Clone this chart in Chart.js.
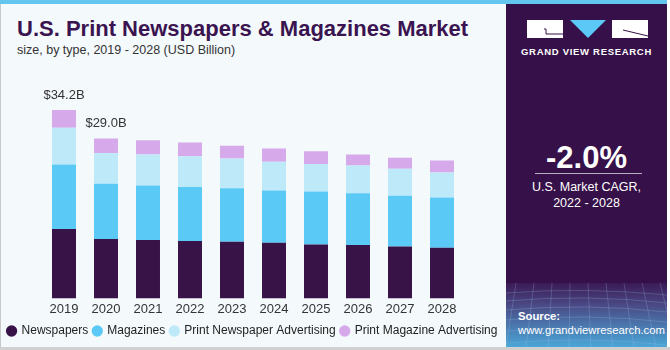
<!DOCTYPE html>
<html>
<head>
<meta charset="utf-8">
<script src="https://cdn.jsdelivr.net/npm/chart.js@4.4.0/dist/chart.umd.min.js"></script>
<style>
  html, body { margin: 0; padding: 0; }
  body { width: 670px; height: 350px; position: relative; overflow: hidden; background: #fff; font-family: "Liberation Sans", Arial, sans-serif; }
  #left { position: absolute; left: 0; top: 4px; width: 506px; height: 344px; background: #f4f9fc; border-left: 1px solid #c9c9c9; box-sizing: border-box; }
  #topbar { position: absolute; left: 0; top: 0; width: 667px; height: 4px; background: #63c6ee; z-index: 3; }
  #bottomline { position: absolute; left: 0; top: 347px; width: 670px; height: 3px; background: #d0d0d0; z-index: 3; }
  #title { position: absolute; left: 17px; top: 16px; font-size: 22px; font-weight: bold; color: #3a1450; white-space: nowrap; }
  #subtitle { position: absolute; left: 17px; top: 43px; font-size: 12.5px; color: #333; white-space: nowrap; }
  #chartBox { position: absolute; left: -8px; top: 62px; width: 521px; height: 285px; z-index: 1; }
  #right { position: absolute; left: 506px; top: 4px; width: 161px; height: 343px; background: #361048; overflow: hidden; z-index: 2; }
  #gvr { position: absolute; left: 0; top: 42px; width: 161px; text-align: center; color: #fff; font-size: 9.5px; font-weight: bold; letter-spacing: 0.7px; }
  #grid { position: absolute; left: 0; top: 279px; width: 161px; height: 64px; }
  .rtext { position: absolute; left: 0; width: 161px; text-align: center; color: #fff; }
  #cagr { top: 136px; font-size: 31px; font-weight: bold; }
  #rule { position: absolute; left: 29px; top: 169px; width: 107px; height: 1px; background: #b9b0c2; }
  #cagrTxt { top: 175px; font-size: 12.5px; line-height: 16px; }
  #src { position: absolute; left: 12px; top: 305px; color: #fff; font-size: 11.3px; line-height: 14px; }
</style>
</head>
<body>
<div id="topbar"></div>
<div id="left"></div>
<div id="title">U.S. Print Newspapers &amp; Magazines Market</div>
<div id="subtitle">size, by type, 2019 - 2028 (USD Billion)</div>
<div id="chartBox"><canvas id="chart"></canvas></div>

<div id="right">
  <svg width="161" height="40" style="position:absolute;left:0;top:0">
    <rect x="21" y="16" width="36" height="18" style="fill:#ffffff"/>
    <rect x="106" y="16" width="36" height="18" style="fill:#ffffff"/>
    <polyline points="38,25 40,25 40,30 57,30" fill="none" stroke="#361048" stroke-width="1"/>
    <polygon points="64,16 100,16 82,34" fill="#5bc8f5"/>
    <line x1="117" y1="26" x2="142" y2="32" stroke="#361048" stroke-width="1"/>
  </svg>
  <div id="gvr">GRAND VIEW RESEARCH</div>
  <div class="rtext" id="cagr">-2.0%</div>
  <div id="rule"></div>
  <div class="rtext" id="cagrTxt">U.S. Market CAGR,<br>2022 - 2028</div>
  <svg id="grid" width="161" height="64">
    <defs>
      <linearGradient id="g" x1="0" y1="0" x2="0" y2="1">
        <stop offset="0" stop-color="#3b1a55"/>
        <stop offset="0.35" stop-color="#4a4a86"/>
        <stop offset="1" stop-color="#4aa7d8"/>
      </linearGradient>
    </defs>
    <rect width="161" height="64" fill="url(#g)"/>
    <g stroke="#9fc3e6" stroke-opacity="0.35" stroke-width="0.7" fill="none">
      <path d="M0 10 Q80 4 161 12"/><path d="M0 18 Q80 11 161 20"/><path d="M0 27 Q80 20 161 29"/>
      <path d="M0 37 Q80 30 161 39"/><path d="M0 48 Q80 41 161 50"/><path d="M0 60 Q80 53 161 62"/>
      <path d="M10 0 L0 64"/><path d="M28 0 L20 64"/><path d="M46 0 L42 64"/><path d="M64 0 L63 64"/>
      <path d="M82 0 L85 64"/><path d="M100 0 L107 64"/><path d="M118 0 L128 64"/><path d="M136 0 L150 64"/><path d="M154 0 L170 64"/>
    </g>
  </svg>
  <div id="src"><b>Source:</b><br>www.grandviewresearch.com</div>
</div>
<div id="bottomline"></div>

<script>
const years = ['2019', '2020', '2021', '2022', '2023', '2024', '2025', '2026', '2027', '2028'];
const newspapers = [12.6, 10.8, 10.6, 10.4, 10.3, 10.1, 9.8, 9.7, 9.4, 9.2];
const magazines = [11.7, 10.0, 9.9, 9.8, 9.7, 9.5, 9.6, 9.4, 9.25, 9.1];
const printNewspaperAdv = [6.66, 5.6, 5.6, 5.6, 5.4, 5.2, 5.0, 5.0, 4.86, 4.55];
const printMagazineAdv = [3.24, 2.6, 2.6, 2.5, 2.3, 2.4, 2.3, 2.0, 2.0, 2.16];
const totalLabels = ['$34.2B', '$29.0B', '', '', '', '', '', '', '', ''];

const seriesNames = ['Newspapers', 'Magazines', 'Print Newspaper Advertising', 'Print Magazine Advertising'];
const seriesColors = ['#371347', '#5bc9f5', '#bde9f9', '#d5a9ea'];
const seriesData = [newspapers, magazines, printNewspaperAdv, printMagazineAdv];

// labels above the first two bars
const totalsPlugin = {
    id: 'totals',
    afterDatasetsDraw(chart) {
        const ctx = chart.ctx;
        const x = chart.scales.x, y = chart.scales.y;
        ctx.save();
        ctx.font = '13px "Liberation Sans", Arial, sans-serif';
        ctx.fillStyle = '#333';
        ctx.textAlign = 'center';
        ctx.textBaseline = 'middle';
        years.forEach((yr, i) => {
            if (!totalLabels[i]) return;
            const total = seriesData.reduce((s, arr) => s + arr[i], 0);
            ctx.fillText(totalLabels[i], x.getPixelForValue(i), y.getPixelForValue(total) - 15);
        });
        ctx.restore();
    }
};

// invisible side axes just to reserve space, so the legend keeps full width
const spacer = w => ({
    display: true,
    grid: { display: false, drawTicks: false },
    border: { display: false },
    ticks: { display: false },
    afterFit: s => { s.width = w; }
});

const ctx = document.getElementById('chart').getContext('2d');
new Chart(ctx, {
    type: 'bar',
    data: {
        labels: years,
        datasets: seriesData.map((d, i) => ({
            label: seriesNames[i],
            data: d,
            backgroundColor: seriesColors[i],
            borderWidth: 0,
            barPercentage: 0.571,
            categoryPercentage: 1.0
        }))
    },
    options: {
        responsive: true,
        maintainAspectRatio: false,
        animation: false,
        layout: { padding: { left: 0, right: 0, top: 16, bottom: 0 } },
        scales: {
            x: {
                stacked: true,
                grid: { display: false, drawTicks: false },
                border: { display: false },
                ticks: { color: '#333', font: { size: 13, family: '"Liberation Sans", Arial, sans-serif' }, padding: 3 }
            },
            y: { ...spacer(51), stacked: true, min: 0, max: 40 },
            yRight: { ...spacer(50), position: 'right', min: 0, max: 40 }
        },
        plugins: {
            legend: {
                position: 'bottom',
                labels: {
                    usePointStyle: true,
                    pointStyle: 'circle',
                    boxWidth: 8,
                    boxHeight: 8,
                    padding: 5,
                    color: '#222',
                    font: { size: 12, family: '"Liberation Sans", Arial, sans-serif' }
                }
            },
            tooltip: { enabled: false }
        }
    },
    plugins: [totalsPlugin]
});
</script>
</body>
</html>
